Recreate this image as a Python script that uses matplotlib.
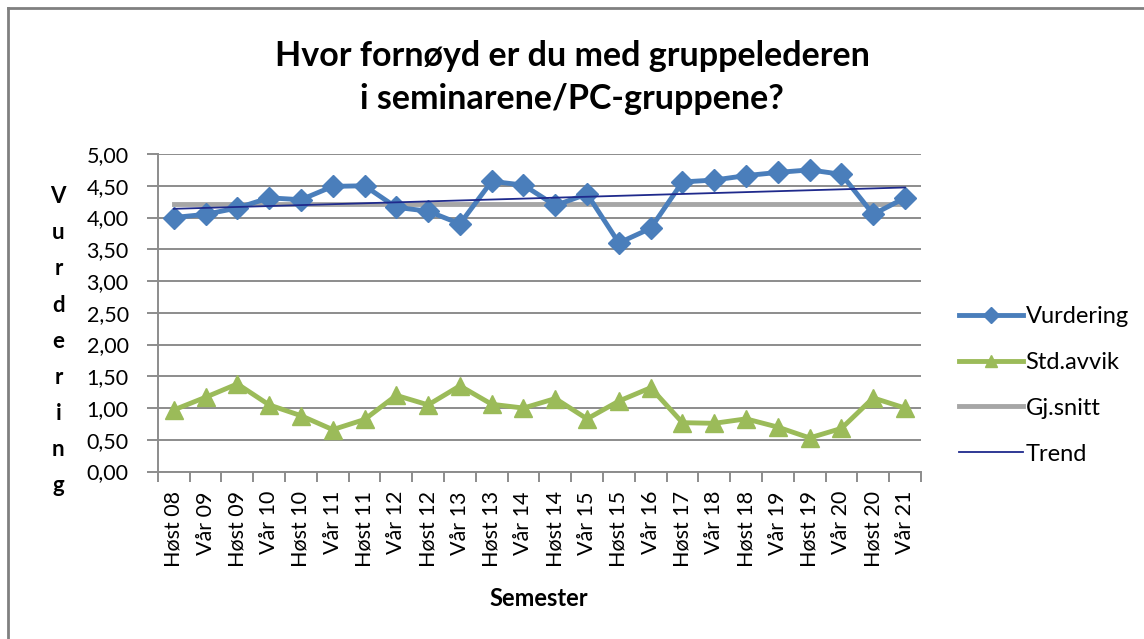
import numpy as np
import matplotlib
matplotlib.use("Agg")
from matplotlib import pyplot as plt
from matplotlib.ticker import FuncFormatter, FixedLocator
from matplotlib.lines import Line2D

semestre = ["Høst 08", "Vår 09", "Høst 09", "Vår 10", "Høst 10", "Vår 11",
            "Høst 11", "Vår 12", "Høst 12", "Vår 13", "Høst 13", "Vår 14",
            "Høst 14", "Vår 15", "Høst 15", "Vår 16", "Høst 17", "Vår 18",
            "Høst 18", "Vår 19", "Høst 19", "Vår 20", "Høst 20", "Vår 21"]
vurdering = [4.00, 4.05, 4.15, 4.31, 4.28, 4.49, 4.50, 4.16, 4.10, 3.90,
             4.57, 4.51, 4.19, 4.37, 3.60, 3.83, 4.56, 4.59, 4.66, 4.71,
             4.75, 4.68, 4.05, 4.31]
std_avvik = [0.97, 1.17, 1.38, 1.05, 0.88, 0.66, 0.82, 1.20, 1.05, 1.35,
             1.06, 1.00, 1.15, 0.83, 1.11, 1.32, 0.77, 0.76, 0.83, 0.70,
             0.53, 0.68, 1.16, 1.00]
gj_snitt = 4.22

plt.rcParams['font.family'] = ['Lato', 'DejaVu Sans']

fig = plt.figure(figsize=(11.44, 6.39), dpi=100)
# outer frame (only top and left edge visible)
fig.add_artist(Line2D([0.007, 1.0], [0.987, 0.987], transform=fig.transFigure,
                      color='#808080', linewidth=2))
fig.add_artist(Line2D([0.007, 0.007], [0.0, 0.987], transform=fig.transFigure,
                      color='#808080', linewidth=2))

ax = fig.add_axes([0.138, 0.262, 0.667, 0.497])

x = np.arange(len(semestre))
coef = np.polyfit(x, vurdering, 1)
trend = np.polyval(coef, x)

ax.plot(x, vurdering, color='#4A7EBB', linewidth=3.5, marker='D', markersize=11,
        label='Vurdering', zorder=4)
ax.plot(x, std_avvik, color='#9BBB59', linewidth=3.5, marker='^', markersize=13,
        label='Std.avvik', zorder=4)
ax.plot(x, [gj_snitt] * len(x), color='#A6A6A6', linewidth=3.5, label='Gj.snitt', zorder=3)
ax.plot(x, trend, color='#1F2A8C', linewidth=1.3, label='Trend', zorder=5)

ax.set_xlim(-0.5, len(x) - 0.5)
ax.set_ylim(0, 5)
ax.set_yticks(np.arange(0, 5.01, 0.5))
ax.yaxis.set_major_formatter(FuncFormatter(lambda v, p: f"{v:.2f}".replace('.', ',')))
ax.grid(axis='y', color='#8c8c8c', linewidth=1.4)
ax.set_axisbelow(True)

ax.set_xticks(x)
ax.set_xticklabels(semestre, rotation=90, fontsize=15.5)
ax.tick_params(axis='x', length=0, pad=14)
ax.xaxis.set_minor_locator(FixedLocator(np.arange(-0.5, len(x), 1)))
ax.tick_params(axis='x', which='minor', length=7, width=1.4, color='#8c8c8c')
ax.tick_params(axis='y', labelsize=15.5, length=8, width=1.4, color='#8c8c8c', pad=13)

for s in ['top', 'right']:
    ax.spines[s].set_visible(False)
for s in ['left', 'bottom']:
    ax.spines[s].set_color('#8c8c8c')
    ax.spines[s].set_linewidth(1.4)

fig.text(0.5, 0.879, "Hvor fornøyd er du med gruppelederen\ni seminarene/PC-gruppene?",
         ha='center', va='center', fontsize=24.5, fontweight='bold', linespacing=1.4)
fig.text(0.051, 0.466, "\n".join("Vurdering"), ha='center', va='center',
         fontsize=16, fontweight='bold', linespacing=1.89)
fig.text(0.471, 0.064, "Semester", ha='center', va='center',
         fontsize=17, fontweight='bold')

ax.legend(loc='center left', bbox_to_anchor=(0.82, 0.397), bbox_transform=fig.transFigure,
          frameon=False, fontsize=17, handlelength=2.7, handletextpad=0.1,
          labelspacing=1.05, markerscale=0.7)

plt.savefig("out.png", dpi=100)
